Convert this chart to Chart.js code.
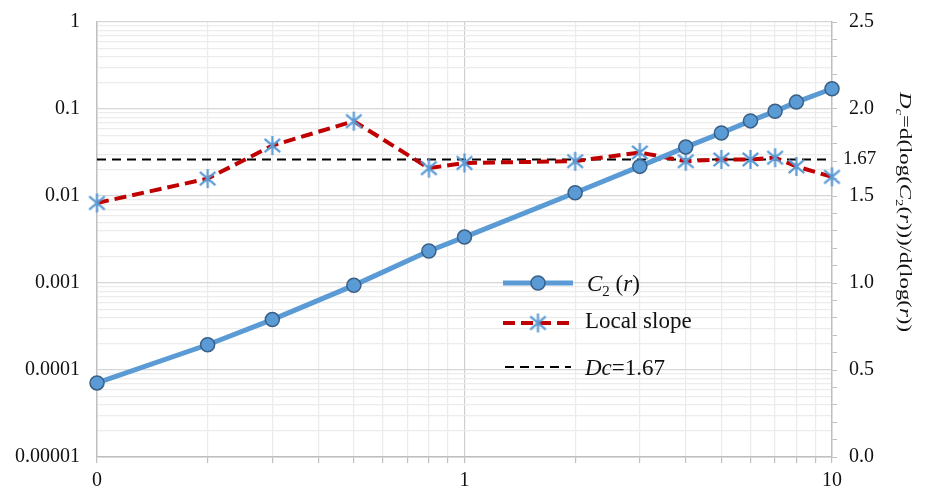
<!DOCTYPE html>
<html>
<head>
<meta charset="utf-8">
<script src="https://cdn.jsdelivr.net/npm/chart.js@4/dist/chart.umd.min.js"></script>
<style>
  html, body { margin: 0; padding: 0; background: #fff; }
  canvas { display: block; }
</style>
</head>
<body>
<canvas id="chart" width="928" height="491"></canvas>
<script>
"use strict";

// ── data ──────────────────────────────────────────────────────────────────────
const rValues     = [0.1, 0.2, 0.3, 0.5, 0.8, 1, 2, 3, 4, 5, 6, 7, 8, 10];
const c2Values    = [7.1e-5, 1.95e-4, 3.8e-4, 9.4e-4, 2.33e-3, 3.37e-3, 0.0109,
                     0.0219, 0.0365, 0.053, 0.073, 0.094, 0.12, 0.171];
const slopeValues = [1.46, 1.60, 1.79, 1.93, 1.66, 1.69, 1.70,
                     1.75, 1.70, 1.71, 1.71, 1.72, 1.67, 1.61];
const dcLevel     = 1.71;     // where the dashed Dc line sits in the picture
const dcLabel     = "1.67";

const xTickValues     = [0.1, 1, 10];
const xTickLabels     = ["0", "1", "10"];
const yTickValues     = [1e-5, 1e-4, 1e-3, 0.01, 0.1, 1];
const yTickLabels     = ["0.00001", "0.0001", "0.001", "0.01", "0.1", "1"];
const rightTickValues = [0, 0.5, 1, 1.5, 2, 2.5];
const rightTickLabels = ["0.0", "0.5", "1.0", "1.5", "2.0", "2.5"];

// ── styles ────────────────────────────────────────────────────────────────────
const FONT  = '"Liberation Serif", "Times New Roman", serif';
const BLUE  = "#5B9BD5";
const BLUE_EDGE = "#3A5F85";
const RED   = "#C00000";
const TEXT  = "#111";
const RED_DASH = [12, 6];

// ── helpers ───────────────────────────────────────────────────────────────────
function near(a, b) { return Math.abs(Math.log10(a) - Math.log10(b)) < 1e-6; }
function isDecade(v) { return Math.abs(Math.log10(v) - Math.round(Math.log10(v))) < 1e-6; }

function logTicks(min, max) {
  const out = [];
  for (let e = Math.round(Math.log10(min)); e < Math.round(Math.log10(max)); e++) {
    for (let k = 1; k <= 9; k++) out.push({ value: Number((k * Math.pow(10, e)).toPrecision(12)) });
  }
  out.push({ value: max });
  return out;
}

function labelFrom(values, labels, v, log) {
  const i = values.findIndex(t => log ? near(t, v) : Math.abs(t - v) < 1e-6);
  return i >= 0 ? labels[i] : "";
}

// asterisk marker (vertical bar + X), like the reference
function makeStar(size, color) {
  const c = document.createElement("canvas");
  c.width = size + 4; c.height = size + 4;
  const g = c.getContext("2d");
  const m = c.width / 2, h = size / 2, d = h * 0.82;
  g.strokeStyle = color; g.lineWidth = 2.2;
  g.beginPath();
  g.moveTo(m, m - h); g.lineTo(m, m + h);
  g.moveTo(m - d, m - d * 0.85); g.lineTo(m + d, m + d * 0.85);
  g.moveTo(m + d, m - d * 0.85); g.lineTo(m - d, m + d * 0.85);
  g.stroke();
  return c;
}
const starImg = makeStar(19, BLUE);

function drawRich(ctx, parts, x, y, size) {
  let cx = x;
  for (const p of parts) {
    const s = p.sub ? size * 0.65 : size;
    ctx.font = `${p.it ? "italic " : ""}${s}px ${FONT}`;
    ctx.fillText(p.t, cx, y + (p.sub ? size * 0.22 : 0));
    cx += ctx.measureText(p.t).width;
  }
  return cx - x;
}
function richWidth(ctx, parts, size) {
  let w = 0;
  for (const p of parts) {
    const s = p.sub ? size * 0.65 : size;
    ctx.font = `${p.it ? "italic " : ""}${s}px ${FONT}`;
    w += ctx.measureText(p.t).width;
  }
  return w;
}

const titleParts = [
  { t: "D", it: true }, { t: "c", it: true, sub: true }, { t: "=d(log(" },
  { t: "C", it: true }, { t: "2", sub: true }, { t: "(" }, { t: "r", it: true },
  { t: ")))/d(log(" }, { t: "r", it: true }, { t: "))" },
];

// ── plugin: legend, right axis title, 1.67 tag ────────────────────────────────
const extras = {
  id: "extras",
  afterDraw(chart) {
    const ctx = chart.ctx;
    const yR = chart.scales.yR;
    ctx.save();
    ctx.fillStyle = TEXT;
    ctx.textBaseline = "alphabetic";
    ctx.textAlign = "left";

    // Dc tag next to the right axis
    ctx.font = `19px ${FONT}`;
    ctx.textBaseline = "middle";
    ctx.fillText(dcLabel, 843, yR.getPixelForValue(dcLevel));
    ctx.textBaseline = "alphabetic";

    // right axis title, rotated
    ctx.save();
    ctx.translate(900, 92);
    ctx.rotate(Math.PI / 2);
    const tw = richWidth(ctx, titleParts, 17);
    ctx.scale(240 / tw, 1);
    drawRich(ctx, titleParts, 0, 0, 17);
    ctx.restore();

    // legend
    ctx.lineCap = "butt";
    // C2 row
    ctx.strokeStyle = BLUE; ctx.lineWidth = 5; ctx.setLineDash([]);
    ctx.beginPath(); ctx.moveTo(503, 283); ctx.lineTo(573, 283); ctx.stroke();
    ctx.fillStyle = BLUE; ctx.strokeStyle = BLUE_EDGE; ctx.lineWidth = 1.5;
    ctx.beginPath(); ctx.arc(538, 283, 7, 0, Math.PI * 2); ctx.fill(); ctx.stroke();
    ctx.fillStyle = TEXT;
    drawRich(ctx, [{ t: "C", it: true }, { t: "2", sub: true }, { t: " (" },
                   { t: "r", it: true }, { t: ")" }], 587, 291, 23);
    // Local slope row
    ctx.strokeStyle = RED; ctx.lineWidth = 4; ctx.setLineDash(RED_DASH);
    ctx.beginPath(); ctx.moveTo(503, 323); ctx.lineTo(573, 323); ctx.stroke();
    ctx.setLineDash([]);
    ctx.drawImage(starImg, 538 - starImg.width / 2, 323 - starImg.height / 2);
    ctx.fillStyle = TEXT;
    ctx.font = `23px ${FONT}`;
    ctx.fillText("Local slope", 585, 328);
    // Dc row
    ctx.strokeStyle = "#000"; ctx.lineWidth = 2; ctx.setLineDash([9, 6]);
    ctx.beginPath(); ctx.moveTo(505, 367); ctx.lineTo(571, 367); ctx.stroke();
    ctx.setLineDash([]);
    drawRich(ctx, [{ t: "Dc", it: true }, { t: "=" + dcLabel }], 585, 375, 23);

    ctx.restore();
  },
};

// ── chart ─────────────────────────────────────────────────────────────────────
const tickFont = { family: FONT, size: 20 };

// pin the plot box: fixed axis sizes, no automatic label padding
function fixVertical(width) {
  return s => { s.width = width; s.paddingTop = 0; s.paddingBottom = 0; };
}

new Chart(document.getElementById("chart"), {
  type: "line",
  data: {
    datasets: [
      {
        label: "C2 (r)",
        data: rValues.map((r, i) => ({ x: r, y: c2Values[i] })),
        yAxisID: "y",
        borderColor: BLUE,
        borderWidth: 5,
        pointStyle: "circle",
        pointRadius: 7,
        pointBackgroundColor: BLUE,
        pointBorderColor: BLUE_EDGE,
        pointBorderWidth: 1.5,
        clip: false,
        order: 1,
      },
      {
        label: "Local slope",
        data: rValues.map((r, i) => ({ x: r, y: slopeValues[i] })),
        yAxisID: "yR",
        borderColor: RED,
        borderWidth: 4,
        borderDash: RED_DASH,
        pointStyle: starImg,
        pointRadius: 9,
        clip: false,
        order: 2,
      },
      {
        label: "Dc=" + dcLabel,
        data: [{ x: rValues[0], y: dcLevel }, { x: rValues[rValues.length - 1], y: dcLevel }],
        yAxisID: "yR",
        borderColor: "#000",
        borderWidth: 2,
        borderDash: [9, 6],
        pointRadius: 0,
        clip: false,
        order: 3,
      },
    ],
  },
  options: {
    responsive: false,
    animation: false,
    events: [],
    layout: { padding: { top: 22, left: 0, right: 0, bottom: 0 } },
    plugins: { legend: { display: false }, tooltip: { enabled: false } },
    scales: {
      x: {
        type: "logarithmic",
        min: 0.1, max: 10,
        afterBuildTicks: s => { s.ticks = logTicks(0.1, 10); },
        afterFit: s => { s.height = 34; s.paddingLeft = 0; s.paddingRight = 0; },
        border: { color: "#bfbfbf", width: 1.5 },
        grid: {
          color: c => (c.tick && near(c.tick.value, 1)) ? "#cfcfcf" : "#ebebeb",
          tickColor: "#bfbfbf",
          tickLength: 6,
          lineWidth: 1.2,
        },
        ticks: {
          autoSkip: false, maxRotation: 0, padding: 6,
          color: TEXT, font: tickFont,
          callback: v => labelFrom(xTickValues, xTickLabels, v, true),
        },
      },
      y: {
        type: "logarithmic",
        position: "left",
        min: 1e-5, max: 1,
        afterBuildTicks: s => { s.ticks = logTicks(1e-5, 1); },
        afterFit: fixVertical(97),
        border: { color: "#bfbfbf", width: 1.5 },
        grid: {
          color: c => (c.tick && isDecade(c.tick.value)) ? "#d6d6d6" : "#ececec",
          lineWidth: 1.2,
          drawTicks: false,
        },
        ticks: {
          autoSkip: false, padding: 17,
          color: TEXT, font: tickFont,
          callback: v => labelFrom(yTickValues, yTickLabels, v, true),
        },
      },
      yR: {
        type: "linear",
        position: "right",
        min: 0, max: 2.5,
        afterBuildTicks: s => {
          const t = [];
          for (let i = 0; i <= 25; i++) t.push({ value: i / 10 });
          s.ticks = t;
        },
        afterFit: fixVertical(96),
        border: { color: "#bfbfbf", width: 1.5 },
        grid: { drawOnChartArea: false, color: "#bfbfbf", tickLength: 5 },
        ticks: {
          autoSkip: false, padding: 12,
          color: TEXT, font: tickFont,
          callback: v => labelFrom(rightTickValues, rightTickLabels, v, false),
        },
      },
    },
  },
  plugins: [extras],
});
</script>
</body>
</html>
